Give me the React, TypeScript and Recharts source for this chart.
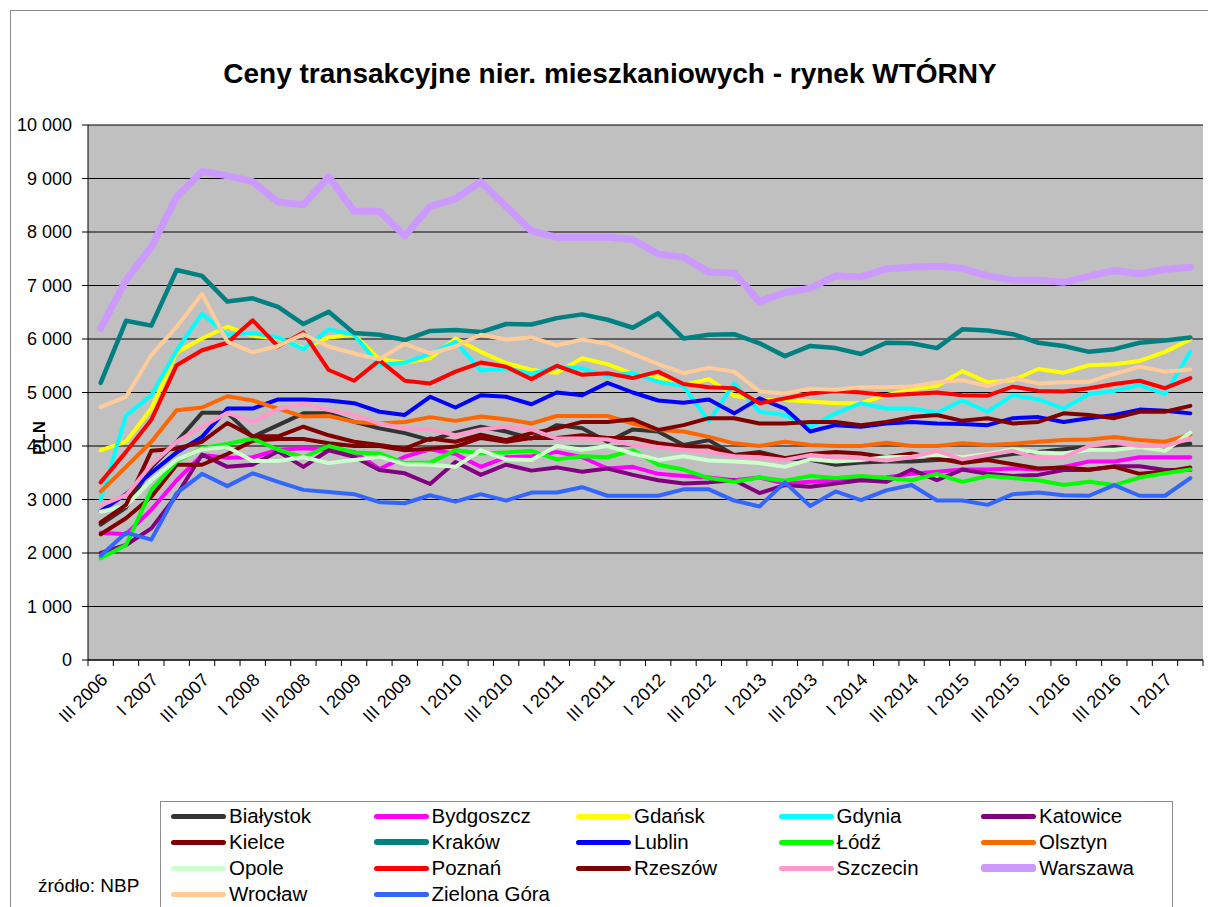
import React from 'react';
import { LineChart, Line, XAxis, YAxis, CartesianGrid } from 'recharts';

const quarters = [
  'III 2006', 'IV 2006',
  'I 2007', 'II 2007', 'III 2007', 'IV 2007',
  'I 2008', 'II 2008', 'III 2008', 'IV 2008',
  'I 2009', 'II 2009', 'III 2009', 'IV 2009',
  'I 2010', 'II 2010', 'III 2010', 'IV 2010',
  'I 2011', 'II 2011', 'III 2011', 'IV 2011',
  'I 2012', 'II 2012', 'III 2012', 'IV 2012',
  'I 2013', 'II 2013', 'III 2013', 'IV 2013',
  'I 2014', 'II 2014', 'III 2014', 'IV 2014',
  'I 2015', 'II 2015', 'III 2015', 'IV 2015',
  'I 2016', 'II 2016', 'III 2016', 'IV 2016',
  'I 2017', 'II 2017',
];

const bialystok = [2530, 2850, 3600, 4080, 4620, 4620, 4170, 4390, 4610, 4610, 4450, 4330, 4240, 4110, 4250, 4360, 4270, 4140, 4390, 4330, 4080, 4310, 4270, 4020, 4110, 3830, 3890, 3770, 3740, 3650, 3690, 3710, 3710, 3740, 3750, 3790, 3850, 3890, 3940, 3980, 3980, 3990, 3990, 4040];
const bydgoszcz = [2380, 2350, 2810, 3360, 3830, 3780, 3790, 3930, 3960, 3930, 3890, 3570, 3800, 3940, 3850, 3610, 3790, 3810, 3890, 3790, 3580, 3610, 3480, 3440, 3410, 3360, 3410, 3300, 3330, 3350, 3400, 3410, 3480, 3520, 3560, 3560, 3580, 3560, 3610, 3710, 3710, 3790, 3790, 3790];
const gdansk = [3920, 4080, 4700, 5750, 6010, 6230, 6060, 6010, 5830, 6030, 6080, 5620, 5560, 5640, 6010, 5760, 5550, 5420, 5370, 5640, 5530, 5350, 5280, 5140, 5250, 4940, 4860, 4860, 4830, 4800, 4800, 4950, 5060, 5120, 5400, 5190, 5230, 5440, 5370, 5510, 5530, 5590, 5760, 5990];
const gdynia = [2990, 4570, 4950, 5790, 6470, 6080, 6110, 6030, 5810, 6180, 6080, 5510, 5560, 5720, 5950, 5410, 5450, 5350, 5480, 5450, 5300, 5370, 5200, 5120, 4460, 5170, 4640, 4580, 4360, 4610, 4800, 4700, 4700, 4620, 4850, 4640, 4950, 4870, 4700, 4970, 5030, 5140, 4970, 5760];
const katowice = [2000, 2150, 2460, 3080, 3840, 3610, 3650, 3900, 3610, 3920, 3800, 3550, 3490, 3290, 3700, 3460, 3650, 3540, 3600, 3520, 3580, 3460, 3360, 3300, 3320, 3360, 3120, 3270, 3240, 3300, 3360, 3330, 3560, 3360, 3560, 3480, 3440, 3460, 3550, 3550, 3620, 3620, 3550, 3550];
const kielce = [2350, 2650, 3050, 3650, 3650, 3850, 4100, 4130, 4130, 4050, 4000, 4000, 3920, 3950, 3990, 4150, 4080, 4150, 4150, 4200, 4150, 4150, 4050, 3990, 3990, 3830, 3860, 3770, 3850, 3890, 3860, 3790, 3860, 3770, 3680, 3740, 3660, 3580, 3600, 3560, 3610, 3480, 3520, 3600];
const krakow = [5180, 6340, 6250, 7290, 7180, 6700, 6760, 6600, 6280, 6510, 6110, 6080, 5980, 6150, 6170, 6130, 6280, 6270, 6390, 6460, 6360, 6210, 6480, 6010, 6080, 6090, 5920, 5680, 5870, 5830, 5720, 5930, 5920, 5830, 6180, 6160, 6090, 5930, 5870, 5760, 5810, 5930, 5970, 6030];
const lublin = [2780, 3100, 3500, 3880, 4170, 4700, 4700, 4870, 4870, 4850, 4800, 4640, 4580, 4920, 4720, 4950, 4920, 4780, 5000, 4950, 5180, 5000, 4850, 4810, 4870, 4610, 4890, 4700, 4270, 4390, 4360, 4420, 4450, 4420, 4410, 4390, 4520, 4540, 4450, 4520, 4580, 4680, 4660, 4610];
const lodz = [1900, 2150, 3180, 3710, 3960, 4040, 4140, 3930, 3790, 4000, 3880, 3860, 3680, 3690, 3920, 3860, 3880, 3910, 3750, 3810, 3790, 3920, 3650, 3560, 3400, 3330, 3410, 3350, 3440, 3400, 3440, 3400, 3360, 3480, 3330, 3440, 3400, 3360, 3270, 3330, 3270, 3410, 3490, 3560];
const olsztyn = [3150, 3610, 4080, 4670, 4720, 4930, 4850, 4700, 4550, 4560, 4450, 4420, 4450, 4540, 4470, 4550, 4500, 4420, 4560, 4560, 4560, 4420, 4300, 4270, 4170, 4050, 4000, 4080, 4020, 4000, 4000, 4060, 4000, 4000, 4050, 4020, 4040, 4080, 4110, 4120, 4170, 4110, 4080, 4210];
const opole = [2770, 2880, 3360, 3740, 3940, 3980, 3720, 3720, 3790, 3680, 3740, 3800, 3660, 3650, 3610, 3920, 3750, 3740, 4000, 3930, 4000, 3860, 3740, 3810, 3730, 3710, 3680, 3610, 3750, 3710, 3740, 3790, 3800, 3830, 3790, 3850, 3940, 3880, 3860, 3930, 3930, 3980, 3910, 4250];
const poznan = [3320, 3890, 4490, 5510, 5790, 5930, 6350, 5860, 6120, 5420, 5220, 5600, 5220, 5170, 5390, 5560, 5480, 5250, 5500, 5330, 5360, 5270, 5390, 5160, 5100, 5080, 4800, 4890, 4980, 5030, 5000, 4950, 4970, 5000, 4950, 4940, 5110, 5030, 5020, 5080, 5160, 5220, 5080, 5270];
const rzeszow = [2570, 2900, 3910, 3950, 4080, 4430, 4180, 4180, 4360, 4200, 4080, 4020, 3950, 4140, 4080, 4210, 4110, 4240, 4330, 4450, 4450, 4500, 4300, 4390, 4520, 4520, 4420, 4420, 4450, 4450, 4390, 4450, 4540, 4580, 4470, 4520, 4420, 4450, 4610, 4580, 4520, 4640, 4640, 4750];
const szczecin = [2890, 3080, 3650, 4080, 4360, 4620, 4440, 4690, 4790, 4670, 4580, 4420, 4330, 4310, 4200, 4310, 4360, 4310, 4140, 4140, 4120, 4020, 3980, 3930, 3890, 3810, 3790, 3740, 3830, 3790, 3770, 3730, 3790, 3910, 3750, 3830, 3910, 3770, 3790, 4000, 4060, 4000, 4000, 4140];
const warszawa = [6200, 7100, 7720, 8660, 9130, 9050, 8940, 8560, 8510, 9030, 8390, 8390, 7930, 8480, 8620, 8940, 8470, 8020, 7900, 7900, 7900, 7860, 7590, 7530, 7250, 7230, 6700, 6870, 6950, 7180, 7160, 7310, 7340, 7360, 7320, 7180, 7100, 7100, 7060, 7170, 7280, 7220, 7300, 7340];
const wroclaw = [4730, 4920, 5700, 6230, 6840, 5950, 5750, 5870, 6090, 5860, 5730, 5620, 5910, 5730, 5860, 6080, 5990, 6030, 5880, 5990, 5910, 5720, 5530, 5360, 5460, 5390, 5020, 4980, 5070, 5050, 5100, 5100, 5110, 5190, 5230, 5120, 5270, 5170, 5190, 5200, 5350, 5480, 5390, 5430];
const zielonaGora = [1950, 2380, 2250, 3120, 3480, 3250, 3490, 3330, 3180, 3140, 3100, 2950, 2930, 3080, 2960, 3100, 2980, 3130, 3130, 3230, 3070, 3070, 3070, 3190, 3190, 2980, 2870, 3320, 2880, 3150, 2990, 3170, 3270, 2980, 2980, 2900, 3100, 3130, 3080, 3070, 3270, 3070, 3070, 3400];

const cityNames = ['Białystok', 'Bydgoszcz', 'Gdańsk', 'Gdynia', 'Katowice', 'Kielce', 'Kraków', 'Lublin', 'Łódź', 'Olsztyn', 'Opole', 'Poznań', 'Rzeszów', 'Szczecin', 'Warszawa', 'Wrocław', 'Zielona Góra'];
const cityValues = [bialystok, bydgoszcz, gdansk, gdynia, katowice, kielce, krakow, lublin, lodz, olsztyn, opole, poznan, rzeszow, szczecin, warszawa, wroclaw, zielonaGora];
const cityColors = ['#333333', '#FF00FF', '#FFFF00', '#00FFFF', '#800080', '#800000', '#008080', '#0000FF', '#00FF00', '#FF6600', '#CCFFCC', '#FF0000', '#800000', '#FF99CC', '#CC99FF', '#FFCC99', '#3366FF'];
const cityWidths = [4, 4, 4, 4, 4, 4, 4.5, 4, 4, 4, 4, 4, 4, 4, 7, 4, 4];

const yTicks = [0, 1000, 2000, 3000, 4000, 5000, 6000, 7000, 8000, 9000, 10000];

const W = 1208;
const H = 907;
const MARGIN = { top: 125, right: 5, left: 28, bottom: 167 };
const Y_AXIS_W = 60;
const X_AXIS_H = 80;
const N = quarters.length;
const STEP = (W - MARGIN.left - MARGIN.right - Y_AXIS_W) / N;
const FONT = '"Liberation Sans", Arial, sans-serif';

const data = quarters.map((q, i) => {
  const row: Record<string, number | string> = { q, x: i + 0.5 };
  cityNames.forEach((name, k) => {
    row['s' + k] = cityValues[k][i];
  });
  return row;
});

const xTickValues = Array.from({ length: N + 1 }, (_, i) => i);

const fmt = (v: number) => String(v).replace(/\B(?=(\d{3})+(?!\d))/g, ' ');

const XTick = (props: any) => {
  const { x, y, payload } = props;
  const idx = payload.value;
  if (idx % 2 !== 0 || idx >= N) return <g />;
  const ax = x + STEP / 2 + 8;
  const ay = y + 13;
  return (
    <text
      x={ax}
      y={ay}
      transform={`rotate(-45 ${ax} ${ay})`}
      textAnchor="end"
      fontSize={18}
      fontFamily={FONT}
      fill="#000"
    >
      {quarters[idx]}
    </text>
  );
};

export default function App() {
  return (
    <div style={{ position: 'relative', width: W, height: H, overflow: 'hidden', background: '#fff', fontFamily: FONT }}>
      <style>{`body{margin:0;}`}</style>
      <div style={{ position: 'absolute', left: 10, top: 10, right: 0, bottom: 0, borderLeft: '1px solid #8c8c8c', borderTop: '1px solid #8c8c8c' }} />
      <LineChart width={W} height={H} data={data} margin={MARGIN}>
        <CartesianGrid vertical={false} stroke="#000" strokeWidth={1} fill="#C0C0C0" fillOpacity={1} />
        <XAxis
          dataKey="x"
          type="number"
          domain={[0, N]}
          ticks={xTickValues}
          interval={0}
          height={X_AXIS_H}
          axisLine={{ stroke: '#000' }}
          tickLine={{ stroke: '#000' }}
          tickSize={6}
          tick={<XTick />}
          allowDataOverflow
        />
        <YAxis
          type="number"
          domain={[0, 10000]}
          ticks={yTicks}
          interval={0}
          width={Y_AXIS_W}
          axisLine={{ stroke: '#000' }}
          tickLine={{ stroke: '#000' }}
          tickSize={6}
          tickMargin={10}
          tickFormatter={fmt}
          tick={{ fontSize: 18, fill: '#000', fontFamily: FONT }}
        />
        {cityNames.map((name, k) => (
          <Line
            key={name}
            name={name}
            dataKey={'s' + k}
            type="linear"
            stroke={cityColors[k]}
            strokeWidth={cityWidths[k]}
            strokeLinejoin="round"
            strokeLinecap="round"
            dot={false}
            activeDot={false}
            isAnimationActive={false}
          />
        ))}
      </LineChart>
      <div style={{ position: 'absolute', left: 0, width: 1220, top: 58, textAlign: 'center', fontWeight: 'bold', fontSize: 28, color: '#000', whiteSpace: 'nowrap' }}>
        Ceny transakcyjne nier. mieszkaniowych - rynek WTÓRNY
      </div>
      <div style={{ position: 'absolute', left: 40, top: 438, transform: 'translate(-50%, -50%) rotate(-90deg)', fontWeight: 'bold', fontSize: 17, color: '#000', whiteSpace: 'nowrap' }}>
        PLN
      </div>
      <div style={{ position: 'absolute', left: 38, top: 875, fontSize: 19, color: '#000', whiteSpace: 'nowrap' }}>
        źródło: NBP
      </div>
      <div style={{ position: 'absolute', left: 160, top: 801, width: 1011, height: 140, border: '1px solid #8c8c8c', background: '#fff' }}>
        {cityNames.map((name, k) => {
          const col = k % 5;
          const row = Math.floor(k / 5);
          return (
            <div key={name} style={{ position: 'absolute', left: 10 + col * 202.5, top: 14 + row * 26, height: 0 }}>
              <div style={{ position: 'absolute', left: 0, top: -cityWidths[k] / 2 - 0.5, width: 55, height: cityWidths[k] + 1, background: cityColors[k], borderRadius: 3 }} />
              <div style={{ position: 'absolute', left: 58, top: -12, fontSize: 20.5, lineHeight: '24px', color: '#000', whiteSpace: 'nowrap' }}>{name}</div>
            </div>
          );
        })}
      </div>
    </div>
  );
}
